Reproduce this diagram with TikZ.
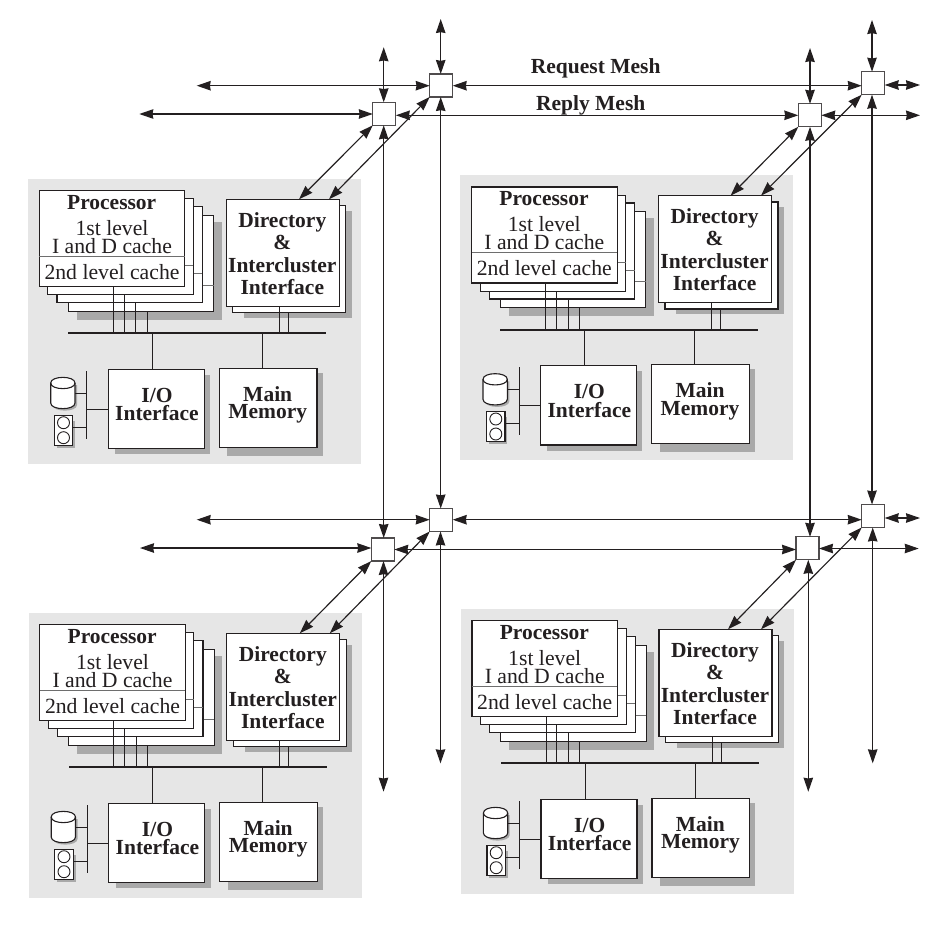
\documentclass[tikz,border=0pt]{standalone}
\usepackage{fontspec}
\setmainfont{Liberation Serif}
\usetikzlibrary{arrows.meta}
\definecolor{ink}{HTML}{231F20}
\definecolor{panel}{HTML}{E6E6E6}
\definecolor{dropgray}{HTML}{A9A9A9}
\definecolor{rulegray}{HTML}{6E6E6E}
\tikzset{
  x=1pt,y=-1pt,
  plainbox/.style={draw=ink,fill=white,rectangle,inner sep=0pt,outer sep=0pt,line width=1.1pt},
  procbox/.style={plainbox,minimum width=145.5pt,minimum height=96pt},
  dirbox/.style={plainbox,minimum width=113pt,minimum height=107pt},
  router/.style={draw=ink!80,fill=white,rectangle,inner sep=0pt,outer sep=0pt,line width=1.1pt,minimum width=23pt,minimum height=23pt},
  boldtext/.style={inner sep=0pt,text=ink,align=center,font=\bfseries\fontsize{21.5}{#1}\selectfont},
  boldtext/.default=22.5,
  lighttext/.style={inner sep=0pt,text=ink,align=center,font=\fontsize{21.7}{17.7}\selectfont},
  wire/.style={draw=ink,line width=0.9pt},
  divider/.style={draw=rulegray,line width=0.7pt},
  busbar/.style={fill=ink,draw=none,rectangle,inner sep=0pt,outer sep=0pt,minimum width=258pt,minimum height=1.8pt},
  stub/.style={fill=ink,draw=none,rectangle,inner sep=0pt,outer sep=0pt,minimum width=1pt,minimum height=67.7pt},
  mesh/.style={draw=ink,line width=1.15pt,{Stealth[length=14pt,width=9.5pt,inset=0.8pt]}-{Stealth[length=14pt,width=9.5pt,inset=0.8pt]}},
}
\newcommand{\clusterblock}[3]{%
\begin{scope}[shift={(#2,#3)}]
  \fill[panel] (28,179) rectangle (361,464);
  % shadows
  \fill[dropgray] (76.7,222) rectangle (221.7,320);
  \fill[dropgray] (244,210.7) rectangle (351.7,318);
  \fill[dropgray] (115,375) rectangle (210,454.3);
  \fill[dropgray] (227.3,373) rectangle (322.7,455.7);
  \fill[dropgray] (56.7,421) rectangle (75,448);
  % processor stack
  \node[procbox] (#1pd) at (140.85,263.35) {};
  \draw[divider] (#1pd.west |- 0,285) -- (#1pd.east |- 0,285);
  \node[procbox] (#1pc) at (129.7,254.7) {};
  \draw[divider] (#1pc.west |- 0,273.7) -- (#1pc.east |- 0,273.7);
  \node[procbox] (#1pb) at (120.65,246.85) {};
  \draw[divider] (#1pb.west |- 0,265.7) -- (#1pb.east |- 0,265.7);
  \node[procbox] (#1pa) at (112,238.7) {};
  \draw[divider] (#1pa.west |- 0,256) -- (#1pa.east |- 0,256);
  \node[boldtext,anchor=base] (#1ptitle) at (111.7,209) {Processor};
  \node[lighttext] (#1pfirst) at (112,237) {1st level\\I and D cache};
  \node[lighttext,anchor=base] (#1psecond) at (112,279.3) {2nd level cache};
  % directory
  \node[dirbox] (#1db) at (289.2,259.2) {};
  \node[dirbox] (#1da) at (282.8,252.8) {};
  \node[boldtext] (#1dtext) at (282.3,253.5) {Directory\\\&\\Intercluster\\Interface};
  % bus
  \node[busbar] (#1bus) at (197,333.3) {};
  \draw[wire] (#1pa.south -| 113.3,0) -- (113.3,0 |- #1bus.center);
  \draw[wire] (#1pb.south -| 124,0) -- (124,0 |- #1bus.center);
  \draw[wire] (#1pc.south -| 135.7,0) -- (135.7,0 |- #1bus.center);
  \draw[wire] (#1pd.south -| 147,0) -- (147,0 |- #1bus.center);
  \draw[wire] (#1da.south -| 279.3,0) -- (279.3,0 |- #1bus.center);
  \draw[wire] (#1db.south -| 288.3,0) -- (288.3,0 |- #1bus.center);
  % I/O and memory
  \node[plainbox,minimum width=96pt,minimum height=79.4pt] (#1io) at (156.3,409) {};
  \node[boldtext=18.6] (#1iotext) at (157,404.6) {I/O\\Interface};
  \node[plainbox,minimum width=97.7pt,minimum height=79pt] (#1mem) at (268.15,407.8) {};
  \node[boldtext=17.6] (#1memtext) at (267.7,405) {Main\\Memory};
  \draw[wire] (152.3,0 |- #1bus.center) -- (#1io.north -| 152.3,0);
  \draw[wire] (262.3,0 |- #1bus.center) -- (#1mem.north -| 262.3,0);
  % peripherals
  \node[stub] (#1bar) at (86.7,404.85) {};
  \draw[wire] (#1bar.center |- #1io.west) -- (#1io.west);
  \fill[dropgray] (52.7,385) -- (52.7,405) .. controls (52.7,412.5) and (77,412.5) .. (77,405) -- (77,385) -- cycle;
  \draw[plainbox] (50.7,383) -- (50.7,403) .. controls (50.7,410.5) and (75,410.5) .. (75,403) -- (75,383)
     .. controls (75,375.5) and (50.7,375.5) .. (50.7,383) -- cycle;
  \draw[draw=ink,line width=1.1pt] (50.7,383) .. controls (50.7,390.5) and (75,390.5) .. (75,383);
  \coordinate (#1disk) at (75,393.3);
  \draw[wire] (#1disk) -- (#1disk -| #1bar.center);
  \node[plainbox,minimum width=18.4pt,minimum height=30pt] (#1disp) at (63.5,430.3) {};
  \node[plainbox,circle,minimum size=12pt,line width=0.9pt] (#1dc) at (63.5,422.7) {};
  \node[plainbox,circle,minimum size=12pt,line width=0.9pt] (#1de) at (63.5,437.7) {};
  \coordinate (#1dispout) at (72.7,427.3);
  \draw[wire] (#1dispout) -- (#1dispout -| #1bar.center);
\end{scope}}
\begin{document}
\begin{tikzpicture}
\useasboundingbox (0,0) rectangle (942,937);
\fill[white] (0,0) rectangle (942,937);
\clusterblock{A}{0}{0}
\clusterblock{B}{432.3}{-3.7}
\clusterblock{C}{0.5}{434}
\clusterblock{D}{432.7}{430}

% routers
\node[router] (al) at (384.3,113.8) {};
\node[router] (au) at (441.2,85.5) {};
\node[router] (bl) at (809.8,115.3) {};
\node[router] (bu) at (873.2,83.2) {};
\node[router] (cl) at (382.8,549.5) {};
\node[router] (cu) at (441.2,520) {};
\node[router] (dl) at (807.5,548.3) {};
\node[router] (du) at (873.2,516) {};

% free ends
\coordinate (alup) at (383.7,47.3);
\coordinate (auup) at (440.7,19);
\coordinate (blup) at (810,48);
\coordinate (buup) at (872,20);
\coordinate (alleft) at (139.3,114);
\coordinate (auleft) at (196.7,85.7);
\coordinate (clleft) at (140,548);
\coordinate (culeft) at (196.7,519.7);
\coordinate (buright) at (920,85);
\coordinate (blright) at (920,115.3);
\coordinate (duright) at (920,518);
\coordinate (dlright) at (918.7,548.5);
\coordinate (cldown) at (383.5,791.7);
\coordinate (cudown) at (440.5,763.3);
\coordinate (dldown) at (808.3,791.7);
\coordinate (dudown) at (872.7,763.3);

% verticals
\draw[mesh] (alup) -- (alup |- al.north);
\draw[mesh] (auup) -- (auup |- au.north);
\draw[mesh] (blup) -- (blup |- bl.north);
\draw[mesh] (buup) -- (buup |- bu.north);
\draw[mesh] (alup |- al.south) -- (alup |- cl.north);
\draw[mesh] (auup |- au.south) -- (auup |- cu.north);
\draw[mesh] (blup |- bl.south) -- (blup |- dl.north);
\draw[mesh] (buup |- bu.south) -- (buup |- du.north);
\draw[mesh] (cldown |- cl.south) -- (cldown);
\draw[mesh] (cudown |- cu.south) -- (cudown);
\draw[mesh] (dldown |- dl.south) -- (dldown);
\draw[mesh] (dudown |- du.south) -- (dudown);

% horizontals
\draw[mesh] (alleft) -- (alleft -| al.west);
\draw[mesh] (auleft) -- (auleft -| au.west);
\draw[mesh] (clleft) -- (clleft -| cl.west);
\draw[mesh] (culeft) -- (culeft -| cu.west);
\draw[mesh] (au.east |- auleft) -- (auleft -| bu.west);
\draw[mesh] (al.east |- bl.west) -- (bl.west);
\draw[mesh] (cu.east |- culeft) -- (culeft -| du.west);
\draw[mesh] (cl.east |- cl.east) -- (cl.east -| dl.west);
\draw[mesh] (bu.east |- buright) -- (buright);
\draw[mesh] (bl.east |- blright) -- (blright);
\draw[mesh] (du.east |- duright) -- (duright);
\draw[mesh] (dl.east |- dlright) -- (dlright);

% diagonals to directories
\draw[mesh] (al.south west) -- ([xshift=72.7pt]Ada.north west);
\draw[mesh] (au.south west) -- ([xshift=102.7pt]Ada.north west);
\draw[mesh] (bl.south west) -- ([xshift=72pt]Bda.north west);
\draw[mesh] (bu.south west) -- ([xshift=102.4pt]Bda.north west);
\draw[mesh] (cl.south west) -- ([xshift=73pt]Cda.north west);
\draw[mesh] (cu.south west) -- ([xshift=103pt]Cda.north west);
\draw[mesh] (dl.south west) -- ([xshift=69pt]Dda.north west);
\draw[mesh] (du.south west) -- ([xshift=102pt]Dda.north west);

% labels
\node[boldtext,anchor=base] (reqlabel) at (595.7,73.3) {Request Mesh};
\node[boldtext,anchor=base] (replabel) at (590.7,110.7) {Reply Mesh};
\end{tikzpicture}
\end{document}
